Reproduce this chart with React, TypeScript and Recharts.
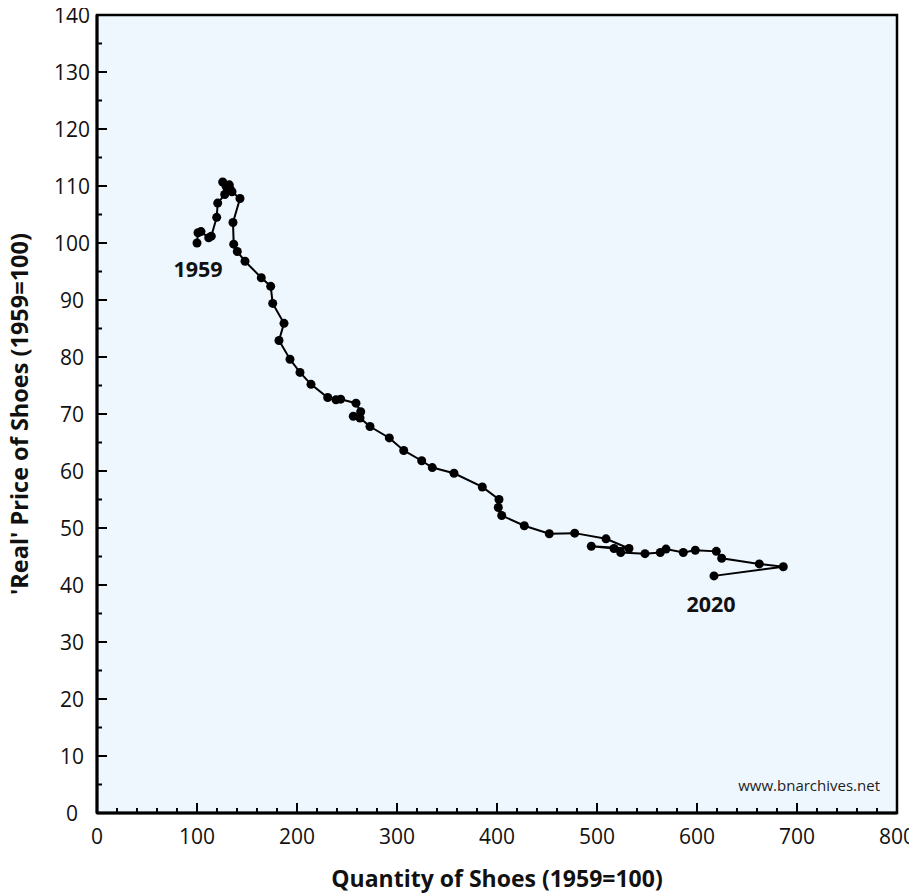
import React from 'react';
import { LineChart, Line, XAxis, YAxis, ReferenceArea, ReferenceDot } from 'recharts';

// quantity index (1959=100), 1959 .. 2020
const quantity = [
	100, 101, 104, 111.7, 114.3, 119.7, 120.7, 127.7, 125.7, 129, 132.3, 133.3, 135, 143, 136,
	136.7, 140.3, 148, 164.3, 173.7, 175.7, 187, 182, 193, 203, 214, 230.7, 239, 243.7, 259,
	263.7, 256.3, 263, 273, 292.3, 306.7, 324.7, 335.3, 357, 385.3, 402, 401.3, 404.7, 427.3,
	452.3, 477.7, 509, 532, 494.3, 517, 523.7, 548, 563.3, 569, 586.3, 598.3, 619.3, 624.7,
	662.3, 686.3, 617
];

// 'real' price index (1959=100)
const price = [
	100, 101.8, 102, 100.9, 101.2, 104.5, 107, 108.5, 110.7, 110, 110.2, 109.4, 109, 107.8, 103.6,
	99.8, 98.5, 96.8, 93.9, 92.4, 89.4, 85.9, 82.9, 79.6, 77.3, 75.2, 72.9, 72.5, 72.6, 71.9,
	70.4, 69.6, 69.3, 67.8, 65.8, 63.6, 61.8, 60.6, 59.6, 57.2, 55, 53.6, 52.2, 50.4,
	49, 49.1, 48.1, 46.4, 46.8, 46.4, 45.7, 45.5, 45.7, 46.3, 45.7, 46.1, 45.9, 44.7,
	43.7, 43.2, 41.6
];

const xTicks = [0, 20, 40, 60, 80, 100, 120, 140, 160, 180, 200, 220, 240, 260, 280, 300, 320, 340, 360, 380, 400, 420, 440, 460, 480, 500, 520, 540, 560, 580, 600, 620, 640, 660, 680, 700, 720, 740, 760, 780, 800];
const yTicks = [0, 5, 10, 15, 20, 25, 30, 35, 40, 45, 50, 55, 60, 65, 70, 75, 80, 85, 90, 95, 100, 105, 110, 115, 120, 125, 130, 135, 140];

const startLabel = '1959';
const endLabel = '2020';

const data = quantity.map((q, i) => ({ q, p: price[i] }));

const FONT = '"Open Sans", sans-serif';

const XTick = (props: any) => {
	const { x, y, payload } = props;
	const v = payload.value;
	const major = v % 100 === 0;
	return (
		<g>
			{v > 0 && v < 800 && (
				<line x1={x} x2={x} y1={y} y2={y - (major ? 10 : 5)} stroke="#000" strokeWidth={2} />
			)}
			{major && (
				<text x={x} y={y + 31} textAnchor="middle" fontSize={21} fontFamily={FONT} fill="#111">
					{v}
				</text>
			)}
		</g>
	);
};

// y labels are centred in the gutter left of the axis
const YTick = (props: any) => {
	const { x, y, payload } = props;
	const v = payload.value;
	const major = v % 10 === 0;
	return (
		<g>
			{v < 140 && (
				<line x1={x} x2={x + (major ? 10 : 5)} y1={y} y2={y} stroke="#000" strokeWidth={2} />
			)}
			{major && (
				<text x={x - 25} y={y + 7.5} textAnchor="middle" fontSize={21} fontFamily={FONT} fill="#111">
					{v}
				</text>
			)}
		</g>
	);
};

const XTitle = (props: any) => {
	const { viewBox } = props;
	return (
		<text
			x={viewBox.x + viewBox.width / 2}
			y={viewBox.y + 74}
			textAnchor="middle"
			fontSize={23}
			fontWeight="bold"
			fontFamily={FONT}
			fill="#111"
		>
			Quantity of Shoes (1959=100)
		</text>
	);
};

const YTitle = (props: any) => {
	const { viewBox } = props;
	const cx = viewBox.x + 20;
	const cy = viewBox.y + viewBox.height / 2;
	return (
		<text
			x={cx}
			y={cy}
			transform={`rotate(-90 ${cx} ${cy})`}
			textAnchor="middle"
			fontSize={23.5}
			fontWeight="bold"
			fontFamily={FONT}
			fill="#111"
		>
			'Real' Price of Shoes (1959=100)
		</text>
	);
};

const Watermark = (props: any) => {
	const { viewBox } = props;
	return (
		<text
			x={viewBox.x + viewBox.width - 17}
			y={viewBox.y + viewBox.height - 22}
			textAnchor="end"
			fontSize={15}
			fontFamily={FONT}
			fill="#222"
		>
			www.bnarchives.net
		</text>
	);
};

const yearLabel = (text: string, dx: number, dy: number) => (props: any) => {
	const { viewBox } = props;
	return (
		<text
			x={viewBox.x + dx}
			y={viewBox.y + dy}
			textAnchor="middle"
			fontSize={21.5}
			fontWeight="bold"
			fontFamily={FONT}
			fill="#111"
		>
			{text}
		</text>
	);
};

const App: React.FC = () => {
	return (
		<div style={{ width: 909, height: 886, fontFamily: FONT }}>
			<style>{'svg { overflow: visible; }'}</style>
			<LineChart
				width={909}
				height={886}
				data={data}
				margin={{ top: 7, right: 20, bottom: 0, left: 0 }}
			>
				<XAxis
					dataKey="q"
					type="number"
					domain={[0, 800]}
					ticks={xTicks}
					interval={0}
					height={81}
					tickSize={0}
					tickMargin={0}
					tickLine={false}
					tick={<XTick />}
					axisLine={{ stroke: '#000', strokeWidth: 3 }}
					label={XTitle}
				/>
				<YAxis
					dataKey="p"
					type="number"
					domain={[0, 140]}
					ticks={yTicks}
					interval={0}
					width={89}
					tickSize={0}
					tickMargin={0}
					tickLine={false}
					tick={<YTick />}
					axisLine={{ stroke: '#000', strokeWidth: 3 }}
					label={YTitle}
				/>
				<ReferenceArea
					x1={0}
					x2={800}
					y1={0}
					y2={140}
					fill="#EEF6FE"
					fillOpacity={1}
					stroke="#000"
					strokeWidth={2.5}
					label={Watermark}
				/>
				<Line
					dataKey="p"
					stroke="#000"
					strokeWidth={2}
					dot={{ r: 4.5, fill: '#000', stroke: '#000', strokeWidth: 0 }}
					activeDot={false}
					isAnimationActive={false}
				/>
				<ReferenceDot x={quantity[0]} y={price[0]} r={0} fill="none" stroke="none" label={yearLabel(startLabel, 1, 34)} />
				<ReferenceDot
					x={quantity[quantity.length - 1]}
					y={price[price.length - 1]}
					r={0}
					fill="none"
					stroke="none"
					label={yearLabel(endLabel, -3, 36)}
				/>
			</LineChart>
		</div>
	);
};

export default App;
